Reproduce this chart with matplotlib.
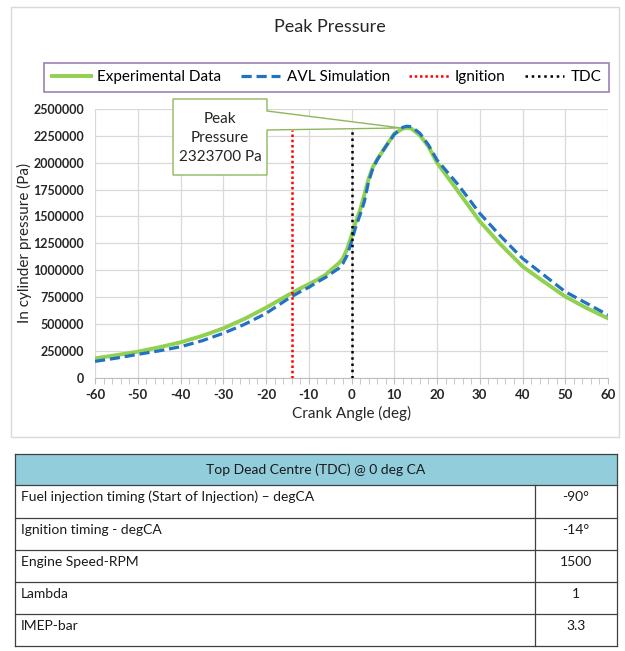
import numpy as np
import matplotlib
matplotlib.use("Agg")
import matplotlib.pyplot as plt
from matplotlib.patches import Rectangle, Polygon

plt.rcParams['font.family'] = ['Lato', 'DejaVu Sans']

# crank angle (deg) and in-cylinder pressure (Pa)
crank_angle = [-60, -55, -50, -45, -40, -35, -30, -25, -20, -15, -12, -10, -8, -6, -4, -3,
               -2, -1, 0, 1, 2, 3, 4, 5, 6, 7, 8, 10, 12, 13, 14, 16, 18, 20, 25, 30,
               35, 40, 45, 50, 55, 60]
experimental = [180000, 210000, 242000, 283000, 329000, 388000, 459000, 548000, 651000,
                765000, 830000, 870000, 912000, 960000, 1030000, 1064000, 1110000, 1200000,
                1320000, 1450000, 1560000, 1700000, 1850000, 1960000, 2030000, 2090000,
                2150000, 2270000, 2318000, 2323700, 2318000, 2255000, 2150000, 2000000,
                1730000, 1455000, 1235000, 1035000, 893000, 755000, 648000, 552000]
avl_sim = [152000, 182000, 217000, 250000, 288000, 343000, 413000, 497000, 598000,
           730000, 800000, 840000, 890000, 935000, 990000, 1017000, 1064000, 1140000,
           1265000, 1405000, 1514000, 1638000, 1824000, 1948000, 2026000, 2090000,
           2150000, 2264000, 2330000, 2340000, 2335000, 2274000, 2165000, 2026000,
           1793000, 1529000, 1312000, 1110000, 955000, 800000, 692000, 583000]

ignition_x = [-14, -14]
ignition_y = [0, 2300000]
tdc_x = [0, 0]
tdc_y = [0, 2300000]

x_ticks = list(range(-60, 61, 10))
y_ticks = list(range(0, 2500001, 250000))

peak_label = "Peak\nPressure\n2323700 Pa"

table_header = "Top Dead Centre (TDC) @ 0 deg CA"
table_params = ["Fuel injection timing (Start of Injection) \u2013 degCA",
                "Ignition timing - degCA",
                "Engine Speed-RPM",
                "Lambda",
                "IMEP-bar"]
table_values = ["-90\u00b0", "-14\u00b0", "1500", "1", "3.3"]

W, H = 625, 651
fig = plt.figure(figsize=(W / 100, H / 100), dpi=100)

# overlay in pixel coords for frame, callout and table
ov = fig.add_axes([0, 0, 1, 1], zorder=5)
ov.set_xlim(0, W)
ov.set_ylim(H, 0)
ov.axis('off')
ov.patch.set_alpha(0)

ov.add_patch(Rectangle((11, 7), 608, 430, fill=False, ec='#D9D9D9', lw=1))

ax = fig.add_axes([95 / W, 1 - 377.7 / H, (608 - 95) / W, (377.7 - 109) / H], zorder=2)
ax.plot(crank_angle, experimental, color='#92D050', lw=2.8, label='Experimental Data', zorder=3)
ax.plot(crank_angle, avl_sim, color='#2272C3', lw=2.3, ls=(0, (3.2, 1.5)), label='AVL Simulation', zorder=4)
ax.plot(ignition_x, ignition_y, color='#FF0000', lw=1.8, ls=(0, (1, 1.1)), label='Ignition', zorder=4)
ax.plot(tdc_x, tdc_y, color='black', lw=1.8, ls=(0, (1, 1.5)), label='TDC', zorder=4)

ax.set_xlim(-60, 60)
ax.set_ylim(0, 2500000)
ax.set_xticks(x_ticks)
ax.set_xticklabels([str(v) for v in x_ticks], fontweight='bold', color='#262626', fontsize=9.5)
ax.set_xticks(np.arange(-60, 61, 2), minor=True)
ax.set_yticks(y_ticks)
ax.set_yticklabels([str(v) for v in y_ticks], fontweight='bold', color='#262626', fontsize=9)
ax.grid(True, which='major', color='#D9D9D9', lw=0.9)
ax.set_axisbelow(True)
for s in ['top', 'right', 'left']:
    ax.spines[s].set_visible(False)
ax.spines['bottom'].set_color('#BFBFBF')
ax.tick_params(axis='y', length=0, pad=8)
ax.tick_params(axis='x', which='both', length=4, color='#BFBFBF', pad=4)
ax.set_xlabel('Crank Angle (deg)', fontsize=11, labelpad=4, color='#262626')
ax.set_ylabel('In cylinder pressure (Pa)', fontsize=11, color='#262626')
ax.yaxis.set_label_coords((32 - 95) / 513, 0.5)

fig.text(330 / W, 1 - 27 / H, 'Peak Pressure', ha='center', va='center', fontsize=13, color='#262626')

leg = ax.legend(loc='lower left', bbox_to_anchor=(44 / W, 1 - 92 / H, (609 - 44) / W, 32 / H),
                bbox_transform=fig.transFigure, mode='expand', ncol=4, frameon=True,
                fancybox=False, edgecolor='#8064A2', fontsize=11, handlelength=2.6,
                handletextpad=0.4, borderaxespad=0, borderpad=0.5)
leg.get_frame().set_linewidth(1.2)

# callout pointing at the experimental peak
ipk = int(np.argmax(experimental))
tip = ax.transData.transform((crank_angle[ipk], experimental[ipk]))
tip = ov.transData.inverted().transform(tip)
bx0, bx1, by0, by1 = 173, 267, 99, 175
callout = Polygon([(bx0, by0), (bx1, by0), (bx1, 111), (tip[0] - 6, tip[1]), (bx1, 130),
                   (bx1, by1), (bx0, by1)], closed=True, fc='white', ec='#8DB85A', lw=1)
ov.add_patch(callout)
ov.text((bx0 + bx1) / 2, (by0 + by1) / 2 + 1, peak_label, ha='center', va='center',
        fontsize=11, linespacing=1.45, color='#262626')

# parameter table
tx0, tx1, tdiv = 15, 617, 535
row_edges = [454, 485, 518, 550, 582, 614, 646]
ov.add_patch(Rectangle((tx0, row_edges[0]), tx1 - tx0, row_edges[1] - row_edges[0],
                       fc='#92CDDC', ec='none'))
for y in row_edges:
    ov.plot([tx0, tx1], [y, y], color='#404040', lw=0.9)
ov.plot([tx0, tx0], [row_edges[0], row_edges[-1]], color='#404040', lw=0.9)
ov.plot([tx1, tx1], [row_edges[0], row_edges[-1]], color='#404040', lw=0.9)
ov.plot([tdiv, tdiv], [row_edges[1], row_edges[-1]], color='#404040', lw=0.9)
ov.text((tx0 + tx1) / 2, (row_edges[0] + row_edges[1]) / 2, table_header, ha='center',
        va='center', fontsize=10, color='#1a1a1a')
for i, (p, v) in enumerate(zip(table_params, table_values)):
    ytop = row_edges[i + 1]
    ov.text(tx0 + 6, ytop + 12, p, ha='left', va='center', fontsize=10, color='#1a1a1a')
    ov.text((tdiv + tx1) / 2, ytop + 12, v, ha='center', va='center', fontsize=10, color='#1a1a1a')

fig.savefig('out.png', dpi=100, facecolor='white')
